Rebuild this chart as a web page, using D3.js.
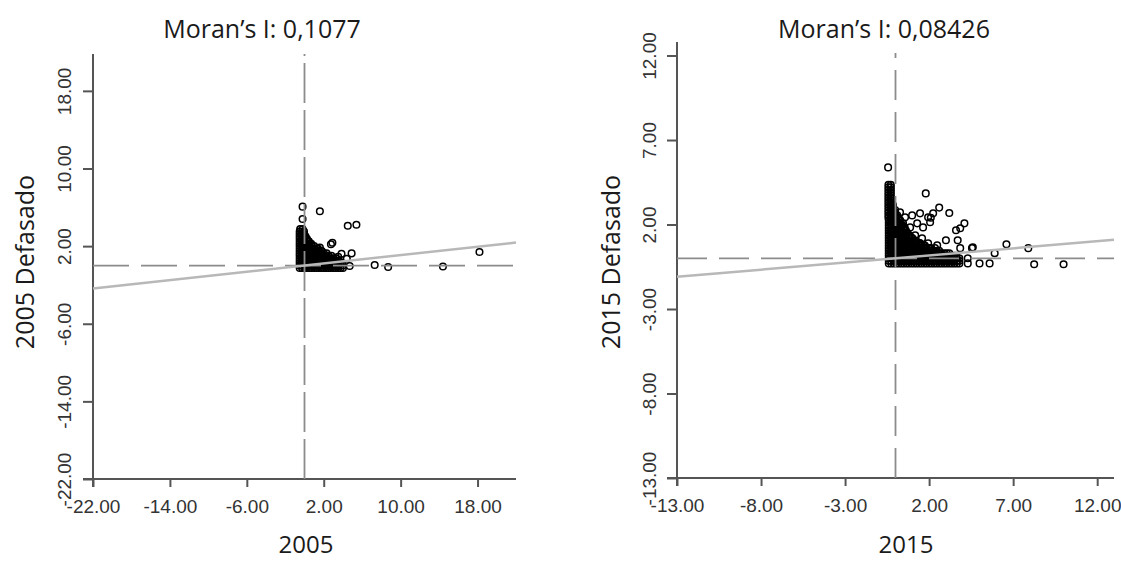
<!DOCTYPE html>
<html>
<head>
<meta charset="utf-8">
<script src="https://cdn.jsdelivr.net/npm/d3@7"></script>
<style>
  body { margin: 0; background: #fff; }
  .tick text { font-family: "Liberation Sans", Arial, sans-serif; font-size: 19px; fill: #333; }
  .lbl { font-family: "Open Sans", sans-serif; font-size: 25px; fill: #1a1a1a; }
  .xlbl { font-size: 24px; }
</style>
</head>
<body>
<svg id="chart" width="1121" height="561"></svg>
<script>
// Moran's I values
var moran2005 = 0.1077,
    moran2015 = 0.08426;

var ticks2005 = [-22, -14, -6, 2, 10, 18];
var ticks2015 = [-13, -8, -3, 2, 7, 12];

// dense cloud near the origin, one row per lagged value: [y, [x...]]
var mass2005 = [
  [3.75, [-0.45, -0.2]],
  [3.5, [-0.5, -0.25, -0.05]],
  [3.25, [-0.5, -0.25, -0.05]],
  [3.0, [-0.5, -0.25, 0, 0.1]],
  [2.75, [-0.5, -0.25, 0, 0.25]],
  [2.5, [-0.5, -0.25, 0, 0.25, 0.45]],
  [2.25, [-0.5, -0.25, 0, 0.25, 0.5, 0.7]],
  [2.0, [-0.5, -0.25, 0, 0.25, 0.5, 0.75, 1]],
  [1.75, [-0.5, -0.25, 0, 0.25, 0.5, 0.75, 1, 1.25, 1.4]],
  [1.5, [-0.5, -0.25, 0, 0.25, 0.5, 0.75, 1, 1.25, 1.5, 1.8]],
  [1.25, [-0.5, -0.25, 0, 0.25, 0.5, 0.75, 1, 1.25, 1.5, 1.75, 2, 2.3]],
  [1.0, [-0.5, -0.25, 0, 0.25, 0.5, 0.75, 1, 1.25, 1.5, 1.75, 2, 2.25, 2.5, 2.8]],
  [0.75, [-0.5, -0.25, 0, 0.25, 0.5, 0.75, 1, 1.25, 1.5, 1.75, 2, 2.25, 2.5, 2.75, 3, 3.25]],
  [0.5, [-0.5, -0.25, 0, 0.25, 0.5, 0.75, 1, 1.25, 1.5, 1.75, 2, 2.25, 2.5, 2.75, 3, 3.25, 3.5, 3.6]],
  [0.25, [-0.5, -0.25, 0, 0.25, 0.5, 0.75, 1, 1.25, 1.5, 1.75, 2, 2.25, 2.5, 2.75, 3, 3.25, 3.5, 3.75, 3.9]],
  [0, [-0.5, -0.25, 0, 0.25, 0.5, 0.75, 1, 1.25, 1.5, 1.75, 2, 2.25, 2.5, 2.75, 3, 3.25, 3.5, 3.75, 4]],
  [-0.25, [-0.5, -0.25, 0, 0.25, 0.5, 0.75, 1, 1.25, 1.5, 1.75, 2, 2.25, 2.5, 2.75, 3, 3.25, 3.5, 3.75, 4]]
];

var spread2005 = [
  [-0.2, 6.07], [-0.2, 4.8], [1.6, 5.6], [4.5, 4.1], [5.4, 4.2],
  [0.3, 1.9], [1.6, 1.85], [2.75, 2.2], [2.9, 2.35], [3.85, 1.2],
  [4.9, 1.25], [4.7, -0.05], [3.5, 0.9], [4.4, 0.7], [7.3, 0.05],
  [8.7, -0.15], [14.4, -0.1], [18.2, 1.4]
];

var mass2015 = [
  [4.35, [-0.42, -0.28]],
  [4.2, [-0.42, -0.28]],
  [4.05, [-0.42, -0.28]],
  [3.9, [-0.42, -0.28]],
  [3.75, [-0.42, -0.28]],
  [3.6, [-0.42, -0.28]],
  [3.45, [-0.42, -0.28]],
  [3.3, [-0.42, -0.28]],
  [3.15, [-0.42, -0.28, -0.15]],
  [3.0, [-0.42, -0.28, -0.15]],
  [2.85, [-0.42, -0.28, -0.15, -0.02]],
  [2.7, [-0.42, -0.28, -0.15, -0.02]],
  [2.55, [-0.42, -0.28, -0.15, -0.02, 0.1]],
  [2.4, [-0.42, -0.28, -0.15, 0, 0.15]],
  [2.25, [-0.4, -0.25, -0.1, 0.05, 0.2, 0.28]],
  [2.1, [-0.4, -0.25, -0.1, 0.05, 0.2, 0.3]],
  [1.95, [-0.4, -0.25, -0.1, 0.05, 0.2, 0.35, 0.42]],
  [1.8, [-0.4, -0.25, -0.1, 0.05, 0.2, 0.35, 0.5, 0.55]],
  [1.65, [-0.4, -0.25, -0.1, 0.05, 0.2, 0.35, 0.5, 0.62]],
  [1.5, [-0.4, -0.25, -0.1, 0.05, 0.2, 0.35, 0.5, 0.65, 0.72]],
  [1.35, [-0.4, -0.25, -0.1, 0.05, 0.2, 0.35, 0.5, 0.65, 0.8, 0.85]],
  [1.2, [-0.4, -0.25, -0.1, 0.05, 0.2, 0.35, 0.5, 0.65, 0.8, 0.95, 1.0]],
  [1.05, [-0.4, -0.25, -0.1, 0.05, 0.2, 0.35, 0.5, 0.65, 0.8, 0.95, 1.1, 1.2]],
  [0.9, [-0.4, -0.25, -0.1, 0.05, 0.2, 0.35, 0.5, 0.65, 0.8, 0.95, 1.1, 1.25, 1.4, 1.45]],
  [0.75, [-0.4, -0.25, -0.1, 0.05, 0.2, 0.35, 0.5, 0.65, 0.8, 0.95, 1.1, 1.25, 1.4, 1.55, 1.7, 1.75]],
  [0.6, [-0.4, -0.25, -0.1, 0.05, 0.2, 0.35, 0.5, 0.65, 0.8, 0.95, 1.1, 1.25, 1.4, 1.55, 1.7, 1.85, 2.0, 2.1]],
  [0.45, [-0.4, -0.25, -0.1, 0.05, 0.2, 0.35, 0.5, 0.65, 0.8, 0.95, 1.1, 1.25, 1.4, 1.55, 1.7, 1.85, 2.0, 2.15, 2.3, 2.45, 2.6]],
  [0.3, [-0.4, -0.25, -0.1, 0.05, 0.2, 0.35, 0.5, 0.65, 0.8, 0.95, 1.1, 1.25, 1.4, 1.55, 1.7, 1.85, 2.0, 2.15, 2.3, 2.45, 2.6, 2.75, 2.9, 3.05, 3.2]],
  [0.15, [-0.4, -0.25, -0.1, 0.05, 0.2, 0.35, 0.5, 0.65, 0.8, 0.95, 1.1, 1.25, 1.4, 1.55, 1.7, 1.85, 2.0, 2.15, 2.3, 2.45, 2.6, 2.75, 2.9, 3.05, 3.2, 3.35, 3.5, 3.6]],
  [0.0, [-0.4, -0.25, -0.1, 0.05, 0.2, 0.35, 0.5, 0.65, 0.8, 0.95, 1.1, 1.25, 1.4, 1.55, 1.7, 1.85, 2.0, 2.15, 2.3, 2.45, 2.6, 2.75, 2.9, 3.05, 3.2, 3.35, 3.5, 3.65, 3.8]],
  [-0.15, [-0.4, -0.25, -0.1, 0.05, 0.2, 0.35, 0.5, 0.65, 0.8, 0.95, 1.1, 1.25, 1.4, 1.55, 1.7, 1.85, 2.0, 2.15, 2.3, 2.45, 2.6, 2.75, 2.9, 3.05, 3.2, 3.35, 3.5, 3.65, 3.8]],
  [-0.3, [-0.4, -0.25, -0.1, 0.05, 0.2, 0.35, 0.5, 0.65, 0.8, 0.95, 1.1, 1.25, 1.4, 1.55, 1.7, 1.85, 2.0, 2.15, 2.3, 2.45, 2.6, 2.75, 2.9, 3.05, 3.2, 3.35, 3.5, 3.65, 3.8]]
];

var spread2015 = [
  [-0.44, 5.38], [1.8, 3.84], [2.6, 3.0], [3.2, 2.68], [4.1, 2.07], [3.6, 1.66],
  [0.27, 2.72], [0.57, 2.43], [0.99, 2.54], [1.46, 2.66], [1.94, 2.43], [2.24, 2.66],
  [0.45, 2.07], [0.87, 1.83], [1.29, 2.07], [1.64, 1.83], [2.06, 2.13], [1.17, 1.36],
  [1.58, 1.18], [1.94, 0.89], [2.48, 0.77], [1.35, 0.48], [0.27, 1.66], [2.1, 2.4],
  [3.0, 1.07], [3.7, 1.07], [2.35, 0.6], [3.85, 0.6], [4.55, 0.6], [3.85, 1.78],
  [4.6, 0.65], [5.9, 0.3], [6.6, 0.83], [7.9, 0.6], [4.3, 0.0], [3.5, 0.06],
  [4.3, -0.3], [5.0, -0.3], [5.6, -0.3], [8.25, -0.35], [10.0, -0.35]
];

function rowsToPoints(rows) {
  var out = [];
  rows.forEach(function(r) {
    r[1].forEach(function(x) { out.push([x, r[0]]); });
  });
  return out;
}

// plain hyphen for negatives, like the original
var fmt = d3.formatLocale({decimal: ".", thousands: ",", grouping: [3], currency: ["", ""], minus: "-"}).format(".2f");

var svg = d3.select("#chart");

function drawPanel(p) {
  var x = d3.scaleLinear().domain(p.xDom).range([p.left, p.right]);
  var y = d3.scaleLinear().domain(p.yDom).range([p.bottom, p.top]);
  var g = svg.append("g");

  // x axis
  var ax = g.append("g")
      .attr("transform", "translate(0," + p.bottom + ")")
      .call(d3.axisBottom(x).tickValues(p.ticksX).tickSize(8).tickSizeOuter(0).tickFormat(fmt));
  ax.select(".domain").remove();
  ax.selectAll(".tick line").attr("stroke", "#555").attr("stroke-width", 2);
  ax.selectAll(".tick text").attr("y", 34).attr("dy", 0);

  // y axis, labels rotated
  var ay = g.append("g")
      .attr("transform", "translate(" + p.left + ",0)")
      .call(d3.axisLeft(y).tickValues(p.ticksY).tickSize(10).tickSizeOuter(0).tickFormat(fmt));
  ay.select(".domain").remove();
  ay.selectAll(".tick line").attr("stroke", "#555").attr("stroke-width", 2);
  ay.selectAll(".tick text")
      .attr("x", 0).attr("dy", 0)
      .attr("text-anchor", "middle")
      .attr("transform", "translate(" + (p.yTickX - p.left) + ",0) rotate(-90)");

  g.append("line")
      .attr("x1", p.left - 10).attr("x2", p.right)
      .attr("y1", p.bottom).attr("y2", p.bottom)
      .attr("stroke", "#555").attr("stroke-width", 2);
  g.append("line")
      .attr("x1", p.left).attr("x2", p.left)
      .attr("y1", p.top).attr("y2", p.bottom + 8)
      .attr("stroke", "#555").attr("stroke-width", 2);

  // points
  var pts = rowsToPoints(p.mass).concat(p.spread);
  g.append("g").selectAll("circle")
      .data(pts)
      .enter().append("circle")
      .attr("cx", function(d) { return x(d[0]); })
      .attr("cy", function(d) { return y(d[1]); })
      .attr("r", 3.3)
      .attr("fill", "none")
      .attr("stroke", "#000")
      .attr("stroke-width", 1.5);

  // mean lines
  g.append("line")
      .attr("x1", x(0)).attr("x2", x(0))
      .attr("y1", p.bottom).attr("y2", p.dashTop)
      .attr("stroke", "#8c8c8c").attr("stroke-width", 1.8)
      .attr("stroke-dasharray", p.dashV);
  g.append("line")
      .attr("x1", p.left).attr("x2", p.right)
      .attr("y1", y(0)).attr("y2", y(0))
      .attr("stroke", "#8c8c8c").attr("stroke-width", 1.8)
      .attr("stroke-dasharray", p.dashH);

  // regression line, slope = Moran's I
  g.append("line")
      .attr("x1", x(p.xDom[0])).attr("y1", y(p.xDom[0] * p.moran))
      .attr("x2", x(p.xDom[1])).attr("y2", y(p.xDom[1] * p.moran))
      .attr("stroke", "#b8b8b8").attr("stroke-width", 2.5);

  g.append("text").attr("class", "lbl")
      .attr("x", p.titleX).attr("y", 38)
      .attr("text-anchor", "middle")
      .text("Moran’s I: " + String(p.moran).replace(".", ","));
  g.append("text").attr("class", "lbl xlbl")
      .attr("x", p.xLabelX).attr("y", 553)
      .attr("text-anchor", "middle")
      .text(p.xLabel);
  g.append("text").attr("class", "lbl")
      .attr("text-anchor", "middle")
      .attr("transform", "translate(" + p.yLabelX + ",262) rotate(-90)")
      .text(p.yLabel);
}

drawPanel({
  left: 93, right: 516, bottom: 479, top: 54, dashTop: 54,
  xDom: [-22, 22], yDom: [-22, 21.8],
  ticksX: ticks2005, ticksY: ticks2005,
  moran: moran2005, mass: mass2005, spread: spread2005,
  dashV: "40,7", dashH: "36,12",
  yTickX: 71, yLabelX: 34, titleX: 262, xLabelX: 306,
  xLabel: "2005", yLabel: "2005 Defasado"
});

drawPanel({
  left: 677, right: 1114, bottom: 478, top: 42, dashTop: 53,
  xDom: [-13, 13], yDom: [-13, 12.8],
  ticksX: ticks2015, ticksY: ticks2015,
  moran: moran2015, mass: mass2015, spread: spread2015,
  dashV: "30,12", dashH: "30,12",
  yTickX: 656, yLabelX: 620, titleX: 884, xLabelX: 906,
  xLabel: "2015", yLabel: "2015 Defasado"
});
</script>
</body>
</html>
